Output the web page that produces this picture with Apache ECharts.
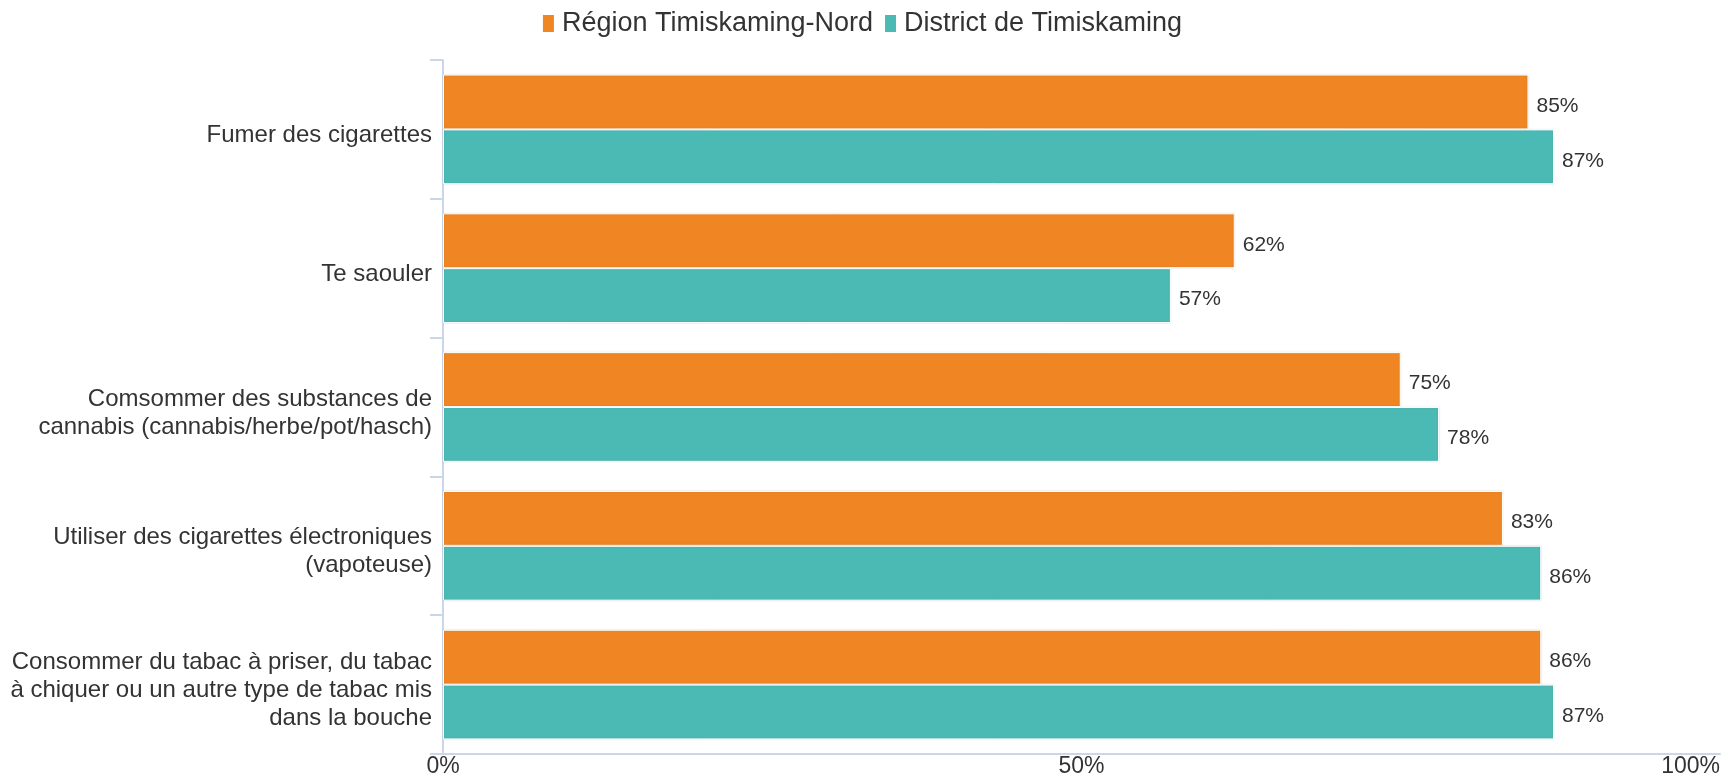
<!DOCTYPE html>
<html>
<head>
<meta charset="utf-8">
<script src="https://cdn.jsdelivr.net/npm/echarts@6/dist/echarts.min.js"></script>
<style>
  html, body { margin: 0; padding: 0; background: #fff; }
  #chart { width: 1723px; height: 778px; }
</style>
</head>
<body>
<div id="chart"></div>
<script>
const categories = [
  'Fumer des cigarettes',
  'Te saouler',
  'Comsommer des substances de\ncannabis (cannabis/herbe/pot/hasch)',
  'Utiliser des cigarettes électroniques\n(vapoteuse)',
  'Consommer du tabac à priser, du tabac\nà chiquer ou un autre type de tabac mis\ndans la bouche',
]
const seriesNames = ['Région Timiskaming-Nord', 'District de Timiskaming']
const regionValues = [85, 62, 75, 83, 86]
const districtValues = [87, 57, 78, 86, 87]
const xTicks = [0, 50, 100]

const font = '"Liberation Sans", Arial, Helvetica, sans-serif'
const axisColor = '#ccd6eb'

const chart = echarts.init(document.getElementById('chart'))

const barSeries = (name, values, color) => ({
  name: name,
  type: 'bar',
  data: values,
  barGap: '0%',
  barCategoryGap: '21%',
  itemStyle: {
    color: color,
    borderColor: '#ffffff',
    borderWidth: 1,
    shadowColor: 'rgba(0, 0, 0, 0.12)',
    shadowBlur: 2,
  },
  label: {
    show: true,
    position: 'right',
    distance: 8,
    offset: [0, 4],
    formatter: '{c}%',
    color: '#333333',
    fontFamily: font,
    fontSize: 21,
  },
})

const option = {
  animation: false,
  textStyle: {
    fontFamily: font,
  },
  legend: {
    top: 5,
    left: 'center',
    itemWidth: 13,
    itemHeight: 19,
    itemGap: 10,
    icon: 'rect',
    data: seriesNames,
    textStyle: {
      color: '#333333',
      fontFamily: font,
      fontSize: 27,
      padding: [0, 0, 0, 2],
    },
  },
  grid: [{
    left: 443,
    right: 3,
    top: 60,
    bottom: 24,
    containLabel: false,
  }, {
    // same plot area nudged down a little, only carries the category labels
    left: 443,
    right: 3,
    top: 66,
    bottom: 18,
    containLabel: false,
  }],
  xAxis: [{
    type: 'value',
    gridIndex: 0,
    min: xTicks[0],
    max: xTicks[xTicks.length - 1],
    interval: xTicks[1] - xTicks[0],
    axisLine: {
      show: true,
      lineStyle: {
        color: axisColor,
        width: 2,
      },
    },
    axisTick: {
      show: false,
    },
    splitLine: {
      show: false,
    },
    axisLabel: {
      color: '#333333',
      fontFamily: font,
      fontSize: 23,
      margin: 1,
      alignMaxLabel: 'right',
      formatter: '{value}%',
    },
  }, {
    type: 'value',
    gridIndex: 1,
    show: false,
  }],
  yAxis: [{
    type: 'category',
    gridIndex: 0,
    inverse: true,
    data: categories,
    axisLine: {
      show: true,
      lineStyle: {
        color: axisColor,
        width: 2,
      },
    },
    axisTick: {
      show: true,
      length: 13,
      lineStyle: {
        color: axisColor,
        width: 2,
      },
    },
    axisLabel: {
      show: false,
    },
  }, {
    type: 'category',
    gridIndex: 1,
    inverse: true,
    data: categories,
    axisLine: {
      show: false,
    },
    axisTick: {
      show: false,
    },
    splitLine: {
      show: false,
    },
    axisLabel: {
      color: '#333333',
      fontFamily: font,
      fontSize: 24,
      lineHeight: 28,
      margin: 11,
      align: 'right',
    },
  }],
  series: [
    barSeries(seriesNames[0], regionValues, '#ef8623'),
    barSeries(seriesNames[1], districtValues, '#4bbab4'),
  ],
}

chart.setOption(option)
</script>
</body>
</html>
